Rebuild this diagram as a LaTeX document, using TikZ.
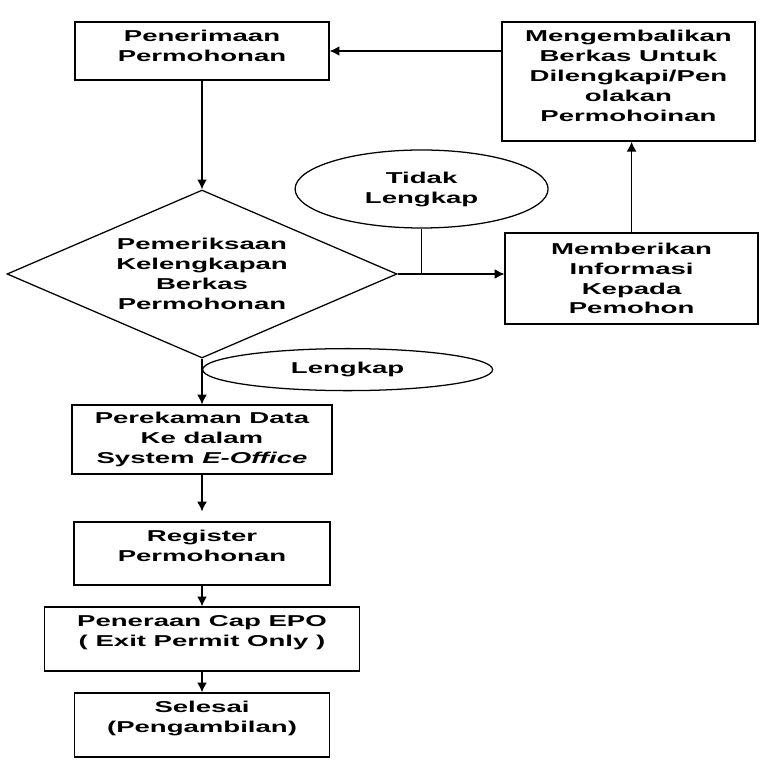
\documentclass[tikz,border=0pt]{standalone}
\usepackage{fontspec}
\setmainfont{Liberation Sans}[FakeStretch=1.75]
\usetikzlibrary{arrows,arrows.meta,shapes}
\newcommand{\flowfont}{\fontsize{11.2}{14.2}\selectfont\bfseries}
\tikzstyle{procbox}=[draw,line width=0.9pt,align=center,font=\flowfont,inner sep=2pt]
\tikzstyle{checkstep}=[draw,line width=0.9pt,diamond,aspect=2.32,inner sep=0pt,align=center,font=\flowfont,minimum width=9.75cm,minimum height=4.2cm]
\tikzstyle{answer}=[draw,line width=0.9pt,ellipse,inner sep=0pt,align=center,font=\flowfont]
\tikzstyle{flowarc}=[-{Latex[length=7pt,width=7pt]},line width=0.9pt]
\tikzstyle{plainarc}=[line width=0.9pt]

\begin{document}
\begin{tikzpicture}
\useasboundingbox (0cm,0cm) rectangle (19.325cm,19.45cm);

\node[procbox,minimum width=6.35cm,minimum height=1.45cm,text depth=0.25cm] (S1) at (5.05cm,18.175cm) {Penerimaan\\Permohonan};
\node[checkstep] (S2) at (5.05cm,12.6cm) {Pemeriksaan\\Kelengkapan\\Berkas\\Permohonan};
\node[answer,minimum width=6.325cm,minimum height=1.95cm] (T) at (10.54cm,14.725cm) {Tidak\\Lengkap};
\node[procbox,minimum width=6.325cm,minimum height=2.275cm] (S5) at (15.79cm,12.49cm) {Memberikan\\Informasi\\Kepada\\Pemohon};
\node[procbox,minimum width=6.325cm,minimum height=2.975cm,text depth=0.3cm] (S6) at (15.71cm,17.41cm) {Mengembalikan\\Berkas Untuk\\Dilengkapi/Pen\\olakan\\Permohoinan};
\node[answer,minimum width=7.25cm,minimum height=1.05cm,anchor=west] (L) at ([yshift=-0.275cm]S2.south) {Lengkap};
\node[procbox,minimum width=6.5cm,minimum height=1.725cm] (S3) at (5.05cm,8.46cm) {Perekaman Data\\Ke dalam\\System \textit{E-Office}};
\node[procbox,minimum width=6.4cm,minimum height=1.575cm,text depth=0.4cm] (S4) at (5.05cm,5.61cm) {Register\\Permohonan};
\node[procbox,minimum width=7.875cm,minimum height=1.6cm,text depth=0.42cm] (S7) at (5.05cm,3.475cm) {Peneraan Cap EPO\\( Exit Permit Only )};
\node[procbox,minimum width=6.375cm,minimum height=1.6cm,text depth=0.42cm] (S8) at (5.05cm,1.325cm) {Selesai\\(Pengambilan)};

\draw[flowarc] (S1) -- (S2);
\draw[flowarc] (S2.east) -- (S2.east -| S5.west);
\draw[plainarc] (T.south) -- (T.south |- S2.east);
\draw[flowarc] (S5.north) -- (S5.north |- S6.south);
\draw[flowarc] (S6.west |- S1.east) -- (S1.east);
\draw[flowarc] (S2.south) -- (S3.north);
\draw[flowarc] (S3) -- ([yshift=0.25cm]S4.north);
\draw[flowarc] (S4) -- (S7);
\draw[flowarc] (S7) -- (S8);

\end{tikzpicture}
\end{document}
